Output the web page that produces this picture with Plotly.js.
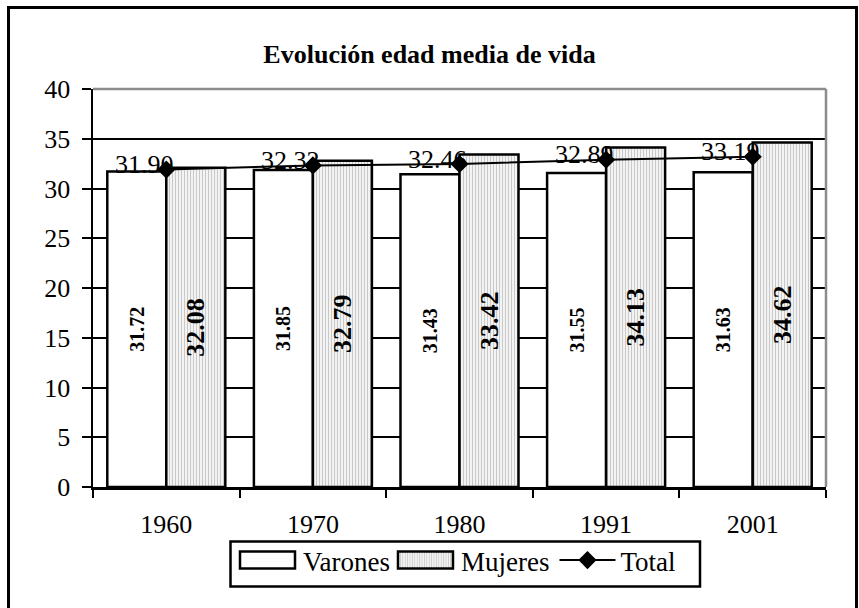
<!DOCTYPE html>
<html>
<head>
<meta charset="utf-8">
<script src="https://cdn.plot.ly/plotly-3.0.1.min.js"></script>
<style>html,body{margin:0;padding:0;background:#fff;}#chart{width:859px;height:608px;}</style>
</head>
<body>
<div id="chart"></div>
<script>
const categories = ['1960', '1970', '1980', '1991', '2001'];
const varones = [31.72, 31.85, 31.43, 31.55, 31.63];
const mujeres = [32.08, 32.79, 33.42, 34.13, 34.62];
const total = [31.90, 32.32, 32.46, 32.89, 33.19];
const yTicks = [0, 5, 10, 15, 20, 25, 30, 35, 40];
const titleText = 'Evolución edad media de vida';

const SERIF = '"Liberation Serif", "Times New Roman", serif';

const traces = [
  {
    type: 'bar', name: 'Varones', x: categories, y: varones,
    marker: {color: '#ffffff', line: {color: '#000', width: 2.5}},
    text: varones.map(v => v.toFixed(2)),
    textposition: 'inside', insidetextanchor: 'middle', textangle: -90,
    constraintext: 'none',
    textfont: {family: SERIF, size: 20, color: '#000', weight: 'bold'},
    hoverinfo: 'skip'
  },
  {
    type: 'bar', name: 'Mujeres', x: categories, y: mujeres,
    marker: {color: '#e6e6e6', line: {color: '#000', width: 2.5},
      pattern: {shape: '|', fgcolor: '#c8c8c8', bgcolor: '#f3f3f3', size: 3, solidity: 0.33}},
    text: mujeres.map(v => v.toFixed(2)),
    textposition: 'inside', insidetextanchor: 'middle', textangle: -90,
    constraintext: 'none',
    textfont: {family: SERIF, size: 26, color: '#000', weight: 'bold'},
    hoverinfo: 'skip'
  },
  {
    type: 'scatter', mode: 'lines+markers', name: 'Total', x: categories, y: total,
    line: {color: '#000', width: 2},
    marker: {symbol: 'diamond', size: 14, color: '#000'},
    hoverinfo: 'skip'
  }
];

const annotations = categories.map((c, i) => ({
  x: i, y: total[i], xref: 'x', yref: 'y',
  text: total[i].toFixed(2), showarrow: false,
  xanchor: 'center', yanchor: 'middle', xshift: -22, yshift: 5,
  font: {family: SERIF, size: 26, color: '#000'}
}));

const layout = {
  width: 859, height: 608,
  paper_bgcolor: '#fff', plot_bgcolor: '#fff',
  margin: {l: 93, r: 33, t: 89, b: 121},
  font: {family: SERIF, size: 26, color: '#000'},
  title: {text: '<b>' + titleText + '</b>', font: {family: SERIF, size: 26, color: '#000'},
    x: 0.5, xref: 'container', xanchor: 'center', y: 1 - 54 / 608, yref: 'container', yanchor: 'middle'},
  barmode: 'group', bargap: 0.195, bargroupgap: 0,
  showlegend: true,
  legend: {orientation: 'h', x: (237 - 93) / 733, xanchor: 'left', y: (487 - 536) / 398, yanchor: 'top',
    xref: 'paper', yref: 'paper',
    borderwidth: 0, bgcolor: 'rgba(0,0,0,0)',
    font: {family: SERIF, size: 27, color: '#000'}, itemwidth: 56, traceorder: 'normal'},
  xaxis: {type: 'category', range: [-0.5, 4.5], autorange: false,
    showline: true, linecolor: '#000', linewidth: 2.5,
    ticks: 'outside', tickson: 'boundaries', ticklen: 8, tickwidth: 2, tickcolor: '#000',
    showgrid: false, zeroline: false, tickangle: 0, ticklabelstandoff: 12,
    tickfont: {family: SERIF, size: 26, color: '#000'}},
  yaxis: {range: [0, 40], autorange: false, tickvals: yTicks, ticktext: yTicks.map(String),
    showline: true, linecolor: '#000', linewidth: 2.5,
    ticks: 'outside', ticklen: 9, tickwidth: 2, tickcolor: '#000',
    showgrid: true, gridcolor: '#000', gridwidth: 2, zeroline: false, ticklabelstandoff: 6,
    tickfont: {family: SERIF, size: 26, color: '#000'}},
  shapes: [
    {type: 'line', xref: 'paper', yref: 'paper', x0: 0, x1: 1, y0: 1, y1: 1,
      line: {color: '#8c8c8c', width: 2.5}, layer: 'above'},
    {type: 'line', xref: 'paper', yref: 'paper', x0: 1, x1: 1, y0: 0, y1: 1,
      line: {color: '#8c8c8c', width: 2.5}, layer: 'above'},
    {type: 'rect', xref: 'paper', yref: 'paper',
      x0: (8.5 - 93) / 733, x1: (856.5 - 93) / 733,
      y0: (487 - 640) / 398, y1: (487 - 7.5) / 398,
      line: {color: '#000', width: 3}, fillcolor: 'rgba(0,0,0,0)', layer: 'above'},
    {type: 'rect', xref: 'paper', yref: 'paper',
      x0: (230.5 - 93) / 733, x1: (700 - 93) / 733,
      y0: (487 - 586.5) / 398, y1: (487 - 541.5) / 398,
      line: {color: '#000', width: 2.5}, fillcolor: 'rgba(0,0,0,0)', layer: 'above'}
  ],
  annotations: annotations
};

Plotly.newPlot('chart', traces, layout, {staticPlot: true, displayModeBar: false}).then(gd => {
  gd.querySelectorAll('.legend path.legendbar, .legend path.legendundefined').forEach(p => {
    p.setAttribute('d', 'M25,8.5H-30V-8.5H25Z');
  });
});
</script>
</body>
</html>
